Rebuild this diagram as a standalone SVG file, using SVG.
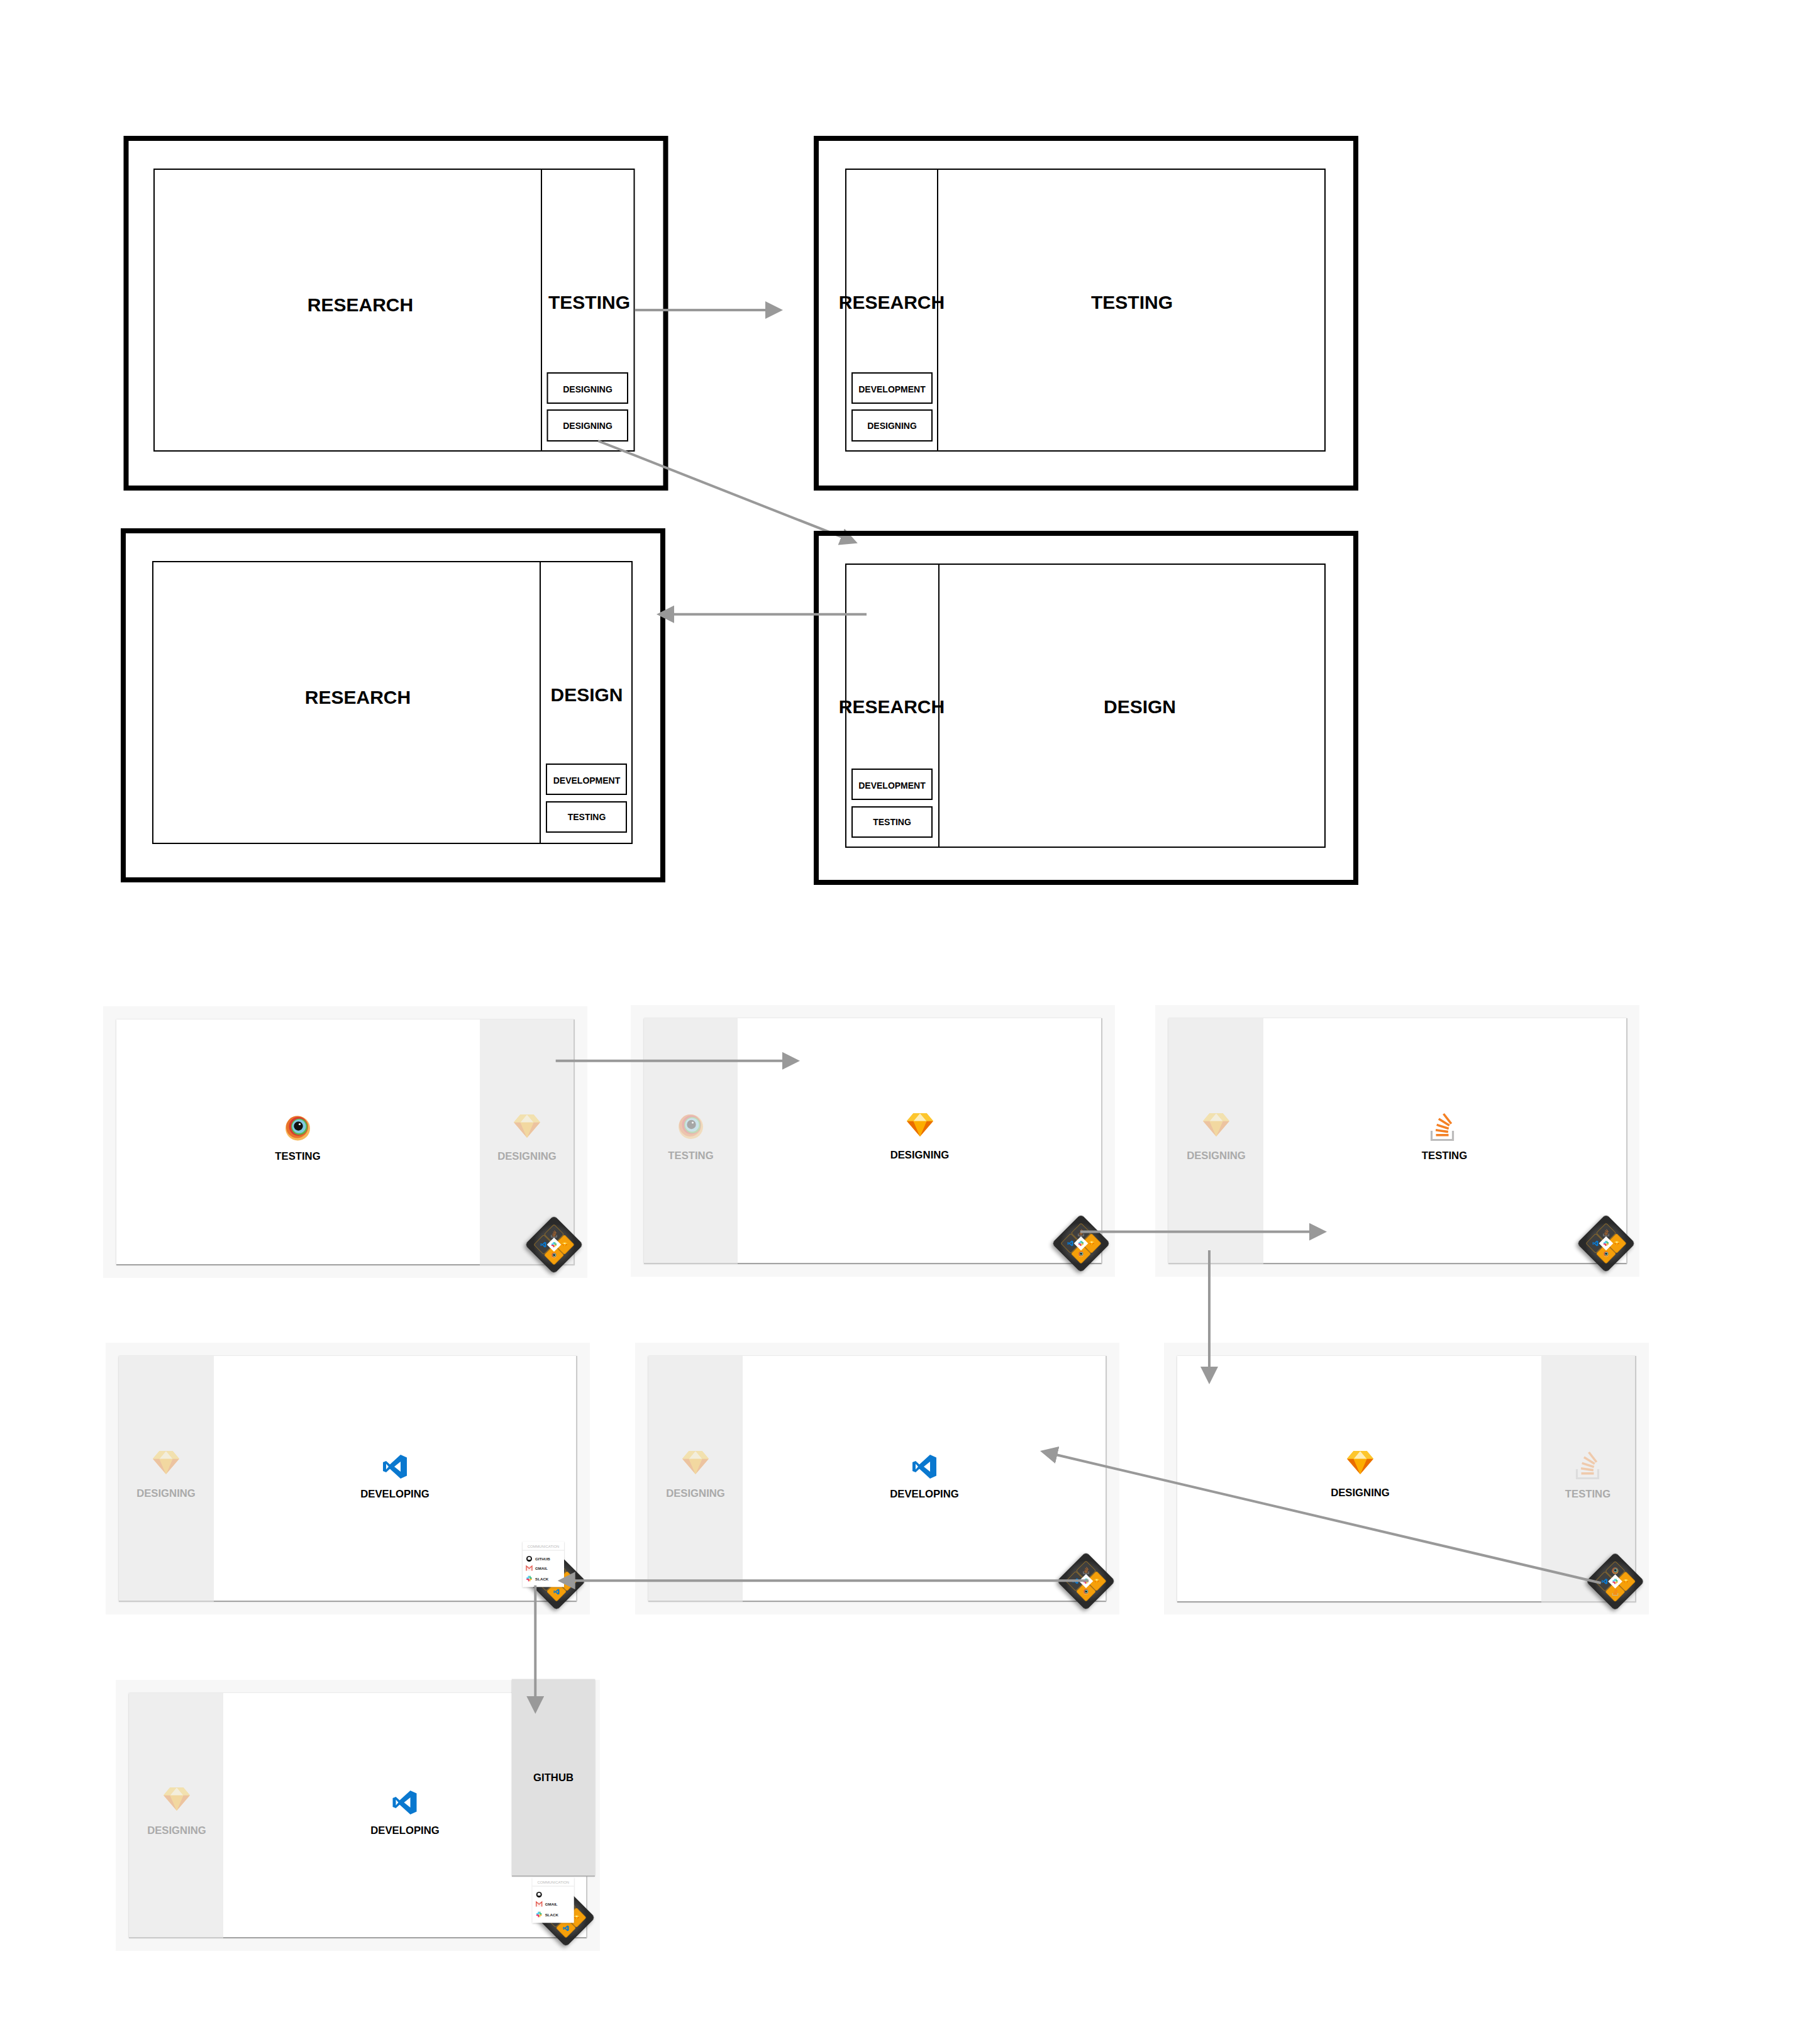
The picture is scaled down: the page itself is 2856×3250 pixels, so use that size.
<svg xmlns="http://www.w3.org/2000/svg" xmlns:xlink="http://www.w3.org/1999/xlink" width="2856" height="3250" viewBox="0 0 2856 3250">
<style>
text{font-family:"Liberation Sans",Arial,sans-serif;font-weight:700;text-anchor:middle;fill:#000}
.frame{fill:none;stroke:#000;stroke-width:8}
.box{fill:none;stroke:#000;stroke-width:2}
.sub{fill:none;stroke:#000;stroke-width:2}
.h{font-size:30px}
.s{font-size:14px}
.outer{fill:#f7f7f7}
.card{fill:#fff;filter:url(#cardShadow)}
.gray{fill:#eee}
.edge{stroke:#a3a3a3;stroke-width:2;fill:none}
.edgeL{stroke:#cbcbcb;stroke-width:2;fill:none}
.on{font-size:16.7px}
.off{font-size:16.7px;fill:#aaa}
.faded{opacity:.32}
.conn{fill:none;stroke:#999;stroke-width:4;marker-end:url(#head)}
.tileD{fill:#3f3f3f;stroke:#8c6a2a;stroke-width:1}
.tileO{fill:#f59f0a;stroke:#d98c08;stroke-width:1}
.dim{opacity:.75}
.pop{fill:#fff;filter:url(#popShadow)}
.ph{font-size:5.9px;font-weight:400;fill:#bbb}
.pr{font-size:6.2px;text-anchor:start;fill:#222}
</style>
<defs>
<filter id="cardShadow" x="-2%" y="-2%" width="104%" height="104%"><feDropShadow dx="0" dy="0.5" stdDeviation="1" flood-color="#000" flood-opacity=".22"/></filter>
<filter id="popShadow" x="-20%" y="-20%" width="140%" height="140%"><feDropShadow dx="0" dy="1" stdDeviation="1.2" flood-color="#000" flood-opacity=".25"/></filter>
<filter id="widShadow" x="-30%" y="-30%" width="160%" height="170%"><feDropShadow dx="0" dy="4" stdDeviation="3" flood-color="#000" flood-opacity=".4"/></filter>
<radialGradient id="widFill"><stop offset="0.6" stop-color="#4a4a4a"/><stop offset="1" stop-color="#2b2b2b"/></radialGradient>
<marker id="head" markerUnits="userSpaceOnUse" markerWidth="28" markerHeight="28" viewBox="0 0 28 28" refX="2" refY="14" orient="auto"><path d="M0 0L28 14L0 28Z" fill="#999"/></marker>
<g id="bs">
<circle cx="0" cy="0.5" r="19.5" fill="#f6b75a"/>
<circle cx="-1" cy="-1.5" r="17.5" fill="#e9722b"/>
<circle cx="1" cy="-2.5" r="15" fill="#d93a30"/>
<circle cx="2.5" cy="-2" r="13" fill="#62b146"/>
<circle cx="2" cy="-2.5" r="11" fill="#7fcbe2"/>
<circle cx="1" cy="-3" r="7.2" fill="#111"/>
<circle cx="3" cy="-6" r="1.6" fill="#fff"/>
</g>
<g id="sk">
<path d="M-10.5-18H10.5L21-5.5L0 19L-21-5.5Z" fill="#fdb300"/>
<path d="M-21-5.5H-10.5L0 19Z" fill="#ea6c00"/>
<path d="M21-5.5H10.5L0 19Z" fill="#ea6c00"/>
<path d="M-10.5-5.5H10.5L0 19Z" fill="#fdad00"/>
<path d="M0-18L10.5-5.5H-10.5Z" fill="#feeeb7"/>
<path d="M-10.5-18L0-18L-10.5-5.5H-21Z" fill="#fdc62d"/>
<path d="M10.5-18L0-18L10.5-5.5H21Z" fill="#fdc62d"/>
</g>
<g id="so">
<path d="M-17 6V20.500H17V6" fill="none" stroke="#bcbbbb" stroke-width="3.200"/>
<g fill="#f48024"><rect x="-10" y="11" width="20" height="3.600"/><rect x="-10.500" y="4.500" width="20" height="3.600" transform="rotate(8 0 6)"/><rect x="-9.500" y="-2.500" width="20" height="3.600" transform="rotate(18 0 0)"/><rect x="-7" y="-9.500" width="20" height="3.600" transform="rotate(32 3 -8)"/><rect x="-2" y="-15" width="20" height="3.600" transform="rotate(52 8 -13)"/></g>
</g>
<path id="vs" fill="#0a78cf" fill-rule="evenodd" d="M9-19L19-14.500V14.500L9 19L-8 3.500L-14 9L-19 7V-7L-14-9L-8-3.500ZM9-8L-1 0L9 8ZM-14-4.500V4.500L-10 0Z"/>
<g id="sl">
<rect x="-4.500" y="-1.800" width="4" height="1.700" rx=".8" fill="#36c5f0"/><rect x="-1.800" y="-4.500" width="1.700" height="4" rx=".8" fill="#36c5f0"/>
<rect x=".5" y="-4.500" width="1.700" height="4" rx=".8" fill="#2eb67d"/><rect x=".5" y="-1.800" width="4" height="1.700" rx=".8" fill="#2eb67d"/>
<rect x=".5" y=".3" width="4" height="1.700" rx=".8" fill="#ecb22e"/><rect x=".3" y=".5" width="1.700" height="4" rx=".8" fill="#ecb22e"/>
<rect x="-1.800" y=".5" width="1.700" height="4" rx=".8" fill="#e01e5a"/><rect x="-4.500" y=".3" width="4" height="1.700" rx=".8" fill="#e01e5a"/>
</g>
<g id="gh"><circle r="4.500" fill="#111"/><circle cy="-.4" r="2.500" fill="#fff"/><rect x="-1.200" y="1.500" width="2.400" height="3" fill="#111"/></g>
<g id="gm"><path d="M-5-3.500H5V4H-5Z" fill="#fbe9e7"/><path d="M-4.500 4V-3.500L0 .5L4.500-3.500V4" fill="none" stroke="#e25247" stroke-width="1.300"/></g>
<g id="widBase">
<rect x="-33" y="-33" width="66" height="66" rx="6" transform="rotate(45)" fill="url(#widFill)" filter="url(#widShadow)"/>
<rect x="-11" y="-11" width="22" height="22" rx="2.500" transform="translate(0 -16.500) rotate(45)" class="tileD"/>
<rect x="-11" y="-11" width="22" height="22" rx="2.500" transform="translate(-16.500 0) rotate(45)" class="tileD"/>
<rect x="-11" y="-11" width="22" height="22" rx="2.500" transform="translate(16.500 0) rotate(45)" class="tileO"/>
<rect x="-11" y="-11" width="22" height="22" rx="2.500" transform="translate(0 16.500) rotate(45)" class="tileO"/>
</g>
<g id="widTop">
<rect x="-8" y="-8" width="16" height="16" transform="rotate(45)" fill="#fff"/>
<use href="#sl" transform="scale(.95)"/>
</g>
<g id="widA">
<use href="#widBase"/>
<use href="#so" transform="translate(0 -17) scale(.25)" class="dim"/>
<use href="#vs" transform="translate(-17 0) scale(.24)"/>
<use href="#sk" transform="translate(17 0) scale(.2)"/>
<use href="#bs" transform="translate(0 17) scale(.22)"/>
<use href="#widTop"/>
</g>
<g id="widB">
<use href="#widBase"/>
<use href="#bs" transform="translate(0 -17) scale(.26)" class="dim"/>
<use href="#vs" transform="translate(-17 0) scale(.24)"/>
<use href="#sk" transform="translate(17 0) scale(.2)"/>
<use href="#so" transform="translate(0 17) scale(.25)"/>
<use href="#widTop"/>
</g>
<g id="widC">
<use href="#widBase"/>
<use href="#sk" transform="translate(17 0) scale(.2)"/>
<use href="#vs" transform="translate(0 17) scale(.24)"/>
</g>
</defs>
<rect width="2856" height="3250" fill="#fff"/>

<g id="wire1">
<rect class="frame" x="200.500" y="220" width="858" height="556"/>
<rect class="box" x="245" y="269" width="763.500" height="448"/>
<path class="box" d="M861 269V717"/>
<rect class="sub" x="870.500" y="593" width="127.500" height="48"/>
<rect class="sub" x="870.500" y="652" width="127.500" height="49"/>
<text class="h" x="573" y="495">RESEARCH</text>
<text class="h" x="937" y="491">TESTING</text>
<text class="s" x="934.500" y="624">DESIGNING</text>
<text class="s" x="934.500" y="682">DESIGNING</text>
</g>
<g id="wire2">
<rect class="frame" x="1298" y="220" width="858" height="556"/>
<rect class="box" x="1345" y="269" width="762" height="448"/>
<path class="box" d="M1491 269V717"/>
<rect class="sub" x="1355" y="593" width="127" height="48"/>
<rect class="sub" x="1355" y="652" width="127" height="49"/>
<text class="h" x="1418" y="491">RESEARCH</text>
<text class="h" x="1800" y="491">TESTING</text>
<text class="s" x="1418.500" y="624">DEVELOPMENT</text>
<text class="s" x="1418.500" y="682">DESIGNING</text>
</g>
<g id="wire3">
<rect class="frame" x="196" y="844" width="858" height="555"/>
<rect class="box" x="243" y="893" width="762" height="448"/>
<path class="box" d="M859 893V1341"/>
<rect class="sub" x="869" y="1215" width="127" height="48"/>
<rect class="sub" x="869" y="1275" width="127" height="48"/>
<text class="h" x="569" y="1119">RESEARCH</text>
<text class="h" x="933" y="1115">DESIGN</text>
<text class="s" x="933" y="1246">DEVELOPMENT</text>
<text class="s" x="933" y="1304">TESTING</text>
</g>

<g id="connector-under">
<path class="conn" d="M951 701L1339.600 854.200"/>
</g>

<g id="wire4">
<rect class="frame" x="1298" y="848" width="858" height="555"/>
<rect class="box" x="1345" y="897" width="762" height="450"/>
<path class="box" d="M1493 897V1347"/>
<rect class="sub" x="1355" y="1223" width="127" height="48"/>
<rect class="sub" x="1355" y="1283" width="127" height="48"/>
<text class="h" x="1418" y="1134">RESEARCH</text>
<text class="h" x="1812.500" y="1134">DESIGN</text>
<text class="s" x="1418.500" y="1254">DEVELOPMENT</text>
<text class="s" x="1418.500" y="1312">TESTING</text>
</g>

<g id="ui1" transform="translate(164 1600)">
<rect class="outer" width="770" height="432"/>
<rect class="card" x="21" y="21" width="728" height="390"/>
<rect class="gray" x="599" y="21" width="150" height="390"/>
<path class="edge" d="M21 411H599"/><path class="edgeL" d="M599 411H749V21"/>
<use href="#bs" x="309.500" y="193.500"/>
<text class="on" x="309.500" y="244">TESTING</text>
<use href="#sk" x="674" y="190" class="faded"/>
<text class="off" x="674" y="244">DESIGNING</text>
<use href="#widA" x="717" y="379"/>
</g>
<g id="ui2" transform="translate(1003 1598)">
<rect class="outer" width="770" height="432"/>
<rect class="card" x="21" y="21" width="728" height="390"/>
<rect class="gray" x="21" y="21" width="149" height="390"/>
<path class="edge" d="M170 411H749"/><path class="edgeL" d="M21 411H170M749 411V21"/>
<use href="#bs" x="95.500" y="193" class="faded"/>
<text class="off" x="95.500" y="245">TESTING</text>
<use href="#sk" x="460" y="190"/>
<text class="on" x="459.500" y="244">DESIGNING</text>
<use href="#widA" x="716" y="379"/>
</g>
<g id="ui3" transform="translate(1837 1598)">
<rect class="outer" width="770" height="432"/>
<rect class="card" x="21" y="21" width="729" height="390"/>
<rect class="gray" x="21" y="21" width="151" height="390"/>
<path class="edge" d="M172 411H750"/><path class="edgeL" d="M21 411H172M750 411V21"/>
<use href="#sk" x="97" y="190" class="faded"/>
<text class="off" x="97" y="245">DESIGNING</text>
<use href="#so" x="456.500" y="194"/>
<text class="on" x="460" y="245">TESTING</text>
<use href="#widA" x="717" y="379"/>
</g>
<g id="ui4" transform="translate(168 2135)">
<rect class="outer" width="770" height="432"/>
<rect class="card" x="21" y="21" width="728" height="390"/>
<rect class="gray" x="21" y="21" width="151" height="390"/>
<path class="edge" d="M172 411H749"/><path class="edgeL" d="M21 411H172M749 411V21"/>
<use href="#sk" x="96" y="190" class="faded"/>
<text class="off" x="96" y="245">DESIGNING</text>
<use href="#vs" x="460" y="197"/>
<text class="on" x="460" y="246">DEVELOPING</text>
<use href="#widC" x="717" y="379"/>
<g id="popup1" transform="translate(663 316)">
<rect class="pop" width="66" height="72.300"/>
<path d="M0 14H66" stroke="#e6e6e6" fill="none"/>
<text class="ph" x="33" y="10">COMMUNICATION</text>
<use href="#gh" x="10.500" y="27.500"/>
<text class="pr" x="20" y="29.700">GITHUB</text>
<use href="#gm" x="10.500" y="42.500"/>
<text class="pr" x="20" y="44.700">GMAIL</text>
<use href="#sl" x="10.500" y="59"/>
<text class="pr" x="20" y="61.700">SLACK</text>
</g>
</g>
<g id="ui5" transform="translate(1010 2135)">
<rect class="outer" width="770" height="432"/>
<rect class="card" x="21" y="21" width="728" height="390"/>
<rect class="gray" x="21" y="21" width="150" height="390"/>
<path class="edge" d="M171 411H749"/><path class="edgeL" d="M21 411H171M749 411V21"/>
<use href="#sk" x="96" y="190" class="faded"/>
<text class="off" x="96" y="245">DESIGNING</text>
<use href="#vs" x="460" y="197"/>
<text class="on" x="460" y="246">DEVELOPING</text>
<use href="#widA" x="717" y="379"/>
</g>
<g id="ui6" transform="translate(1851 2135)">
<rect class="outer" width="771" height="432"/>
<rect class="card" x="21" y="21" width="729" height="391"/>
<rect class="gray" x="600" y="21" width="150" height="391"/>
<path class="edge" d="M21 412H600"/><path class="edgeL" d="M600 412H750V21"/>
<use href="#sk" x="312" y="190"/>
<text class="on" x="312" y="244">DESIGNING</text>
<use href="#so" x="673.500" y="195" class="faded"/>
<text class="off" x="674" y="246">TESTING</text>
<use href="#widB" x="717.500" y="379.500"/>
</g>
<g id="ui7" transform="translate(184 2671)">
<rect class="outer" width="770" height="431"/>
<rect class="card" x="21" y="21" width="728" height="389"/>
<rect class="gray" x="21" y="21" width="150" height="389"/>
<path class="edge" d="M171 410H749"/><path class="edgeL" d="M21 410H171M749 410V21"/>
<use href="#sk" x="97" y="189" class="faded"/>
<text class="off" x="97" y="245">DESIGNING</text>
<use href="#vs" x="459.500" y="195"/>
<text class="on" x="460" y="245">DEVELOPING</text>
<use href="#widC" x="716" y="378"/>
</g>
<g id="github-panel">
<rect x="814" y="2670" width="132" height="313" fill="#e0e0e0" filter="url(#cardShadow)"/>
<path d="M814 2983H946" stroke="#a8a8a8" stroke-width="1.500"/>
<text class="on" x="880" y="2832">GITHUB</text>
</g>
<g id="popup2" transform="translate(846.700 2985)">
<rect class="pop" width="66" height="72.300"/>
<path d="M0 14H66" stroke="#e6e6e6" fill="none"/>
<text class="ph" x="33" y="10">COMMUNICATION</text>
<use href="#gh" x="10.500" y="27.500"/>
<use href="#gm" x="10.500" y="42.500"/>
<text class="pr" x="20" y="44.700">GMAIL</text>
<use href="#sl" x="10.500" y="59"/>
<text class="pr" x="20" y="61.700">SLACK</text>
</g>

<g id="connectors">
<path class="conn" d="M1009.500 493H1219"/>
<path class="conn" d="M1378 976.700H1070"/>
<path class="conn" d="M883.700 1686.700H1246"/>
<path class="conn" d="M1718 1958.600H2084"/>
<path class="conn" d="M1923 1988V2175"/>
<path class="conn" d="M2545.700 2517L1679.300 2313"/>
<path class="conn" d="M1731 2513.300H912.700"/>
<path class="conn" d="M851.300 2520.700V2699"/>
</g>
</svg>
